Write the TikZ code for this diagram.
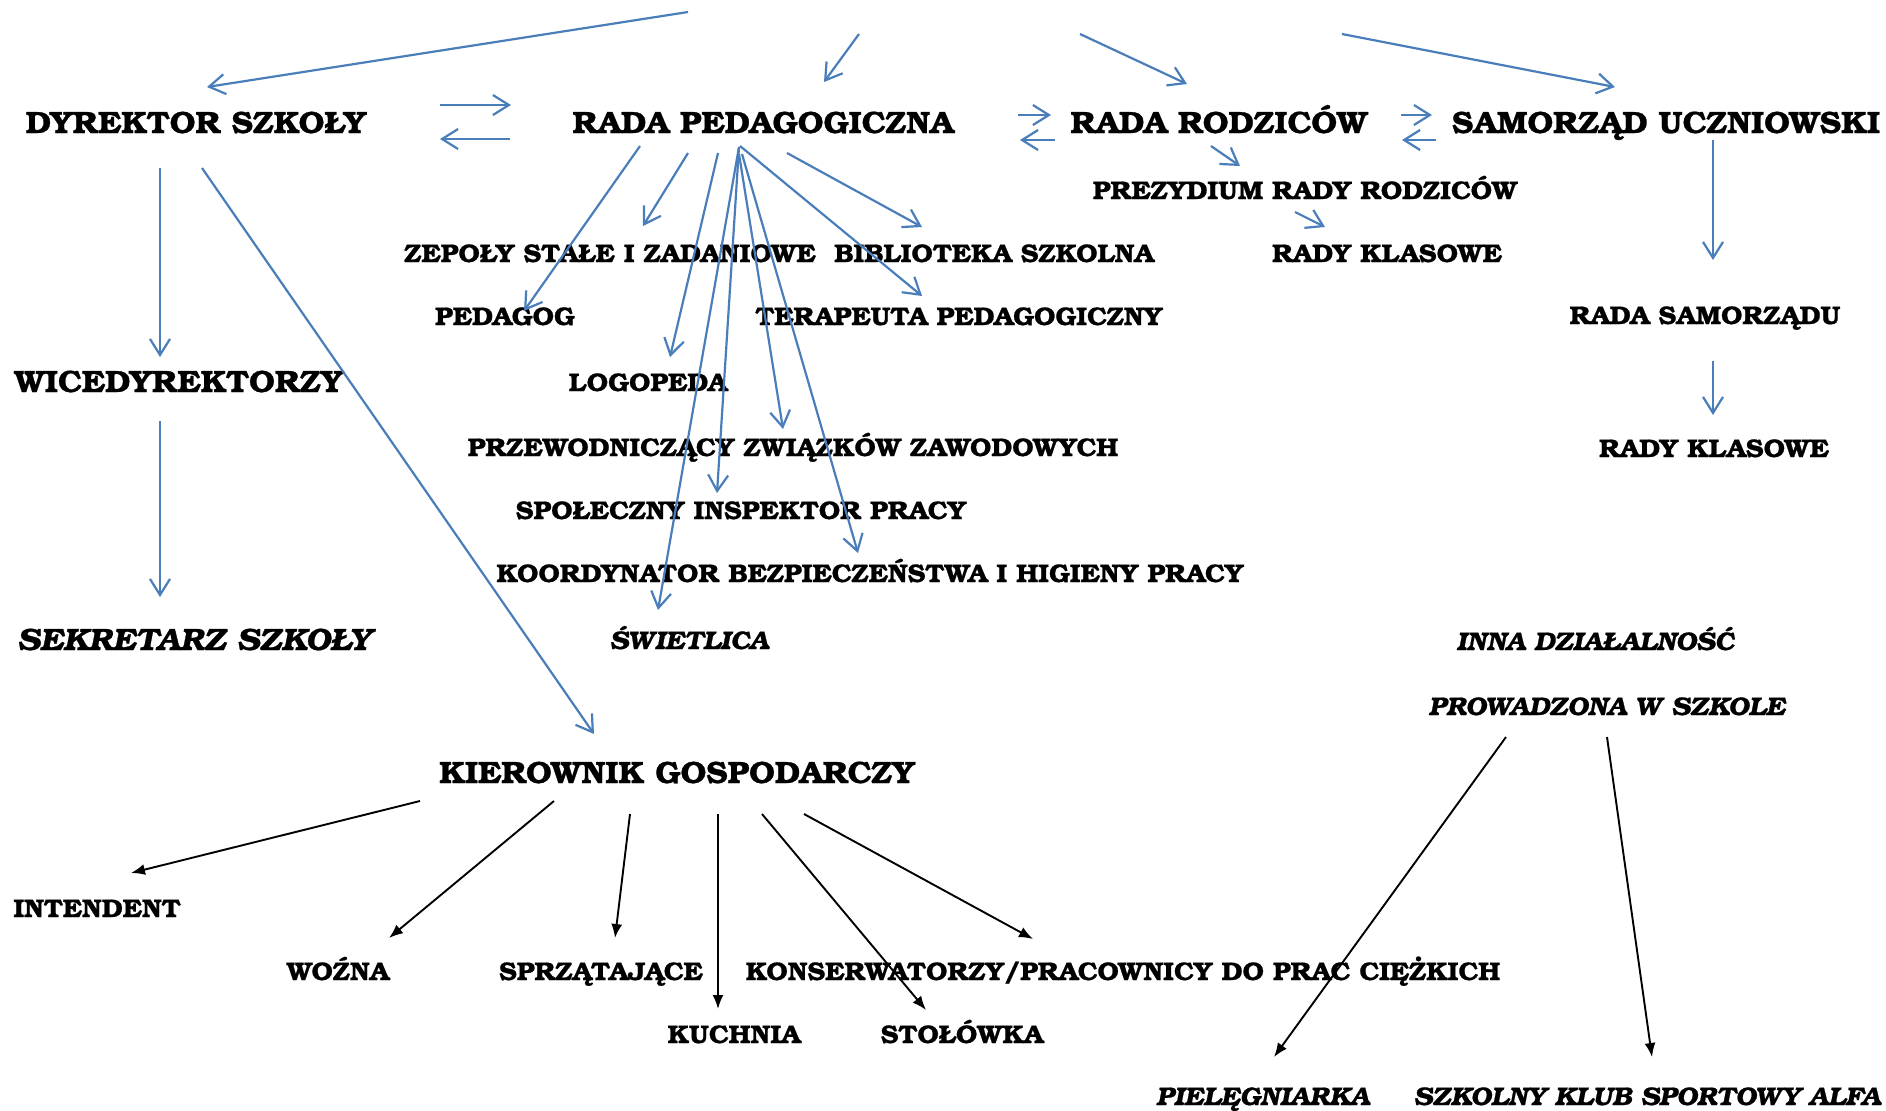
\documentclass[tikz,border=0pt]{standalone}
\usepackage{fontspec}
\setmainfont{TeX Gyre Bonum}[FakeStretch=1.05,BoldFeatures={FakeBold=0.8},BoldItalicFeatures={FakeBold=0.8}]
\usetikzlibrary{arrows.meta}
\definecolor{ablue}{RGB}{74,126,187}
\begin{document}
\begin{tikzpicture}[x=0.5pt,y=-0.5pt,
  lab/.style={anchor=base,inner sep=0pt,font=\bfseries\fontsize{12.75}{15}\selectfont},
  big/.style={anchor=base,inner sep=0pt,font=\bfseries\fontsize{15.4}{18}\selectfont},
  itl/.style={anchor=base,inner sep=0pt,font=\bfseries\itshape\fontsize{12.75}{15}\selectfont},
  bigitl/.style={anchor=base,inner sep=0pt,font=\bfseries\itshape\fontsize{15.4}{18}\selectfont},
  barrow/.style={draw=ablue,line width=1.1pt,-{Straight Barb[length=8pt,width=10pt]}},
  karrow/.style={draw=black,line width=0.95pt,-{Latex[length=7pt,width=5.5pt]}}]
\fill[white] (0,0) rectangle (1886,1110);
\useasboundingbox (0,0) rectangle (1886,1110);
\coordinate (top) at (860,0);
% nodes
\node[big] (dyr) at (196,133) {DYREKTOR SZKOŁY};
\node[big] (rped) at (763,133) {RADA PEDAGOGICZNA};
\node[big] (rrodz) at (1219,133) {RADA RODZICÓW};
\node[big] (samorz) at (1666,133) {SAMORZĄD UCZNIOWSKI};
\node[lab] (prez) at (1305,199) {PREZYDIUM RADY RODZICÓW};
\node[lab] (zesp) at (610,262) {ZEPOŁY STAŁE I ZADANIOWE};
\node[lab] (bibl) at (994,262) {BIBLIOTEKA SZKOLNA};
\node[lab] (rkl1) at (1387,262) {RADY KLASOWE};
\node[lab] (ped) at (505,325) {PEDAGOG};
\node[lab] (terap) at (959,325) {TERAPEUTA PEDAGOGICZNY};
\node[lab] (rsam) at (1705,324) {RADA SAMORZĄDU};
\node[big] (wice) at (179,392) {WICEDYREKTORZY};
\node[lab] (logo) at (648,391) {LOGOPEDA};
\node[lab] (przew) at (793,456) {PRZEWODNICZĄCY ZWIĄZKÓW ZAWODOWYCH};
\node[lab] (rkl2) at (1714,457) {RADY KLASOWE};
\node[lab] (spol) at (741,519) {SPOŁECZNY INSPEKTOR PRACY};
\node[lab] (koord) at (870,582) {KOORDYNATOR BEZPIECZEŃSTWA I HIGIENY PRACY};
\node[bigitl] (sekr) at (194,650) {SEKRETARZ SZKOŁY};
\node[itl] (swiet) at (689,649) {ŚWIETLICA};
\node[itl] (inna) at (1595,650) {INNA DZIAŁALNOŚĆ};
\node[itl] (prow) at (1607,715) {PROWADZONA W SZKOLE};
\node[big] (kier) at (677,783) {KIEROWNIK GOSPODARCZY};
\node[lab] (intend) at (97,917) {INTENDENT};
\node[lab] (wozna) at (338,980) {WOŹNA};
\node[lab] (sprz) at (601,980) {SPRZĄTAJĄCE};
\node[lab] (kons) at (1123,980) {KONSERWATORZY/PRACOWNICY DO PRAC CIĘŻKICH};
\node[lab] (kuch) at (734,1043) {KUCHNIA};
\node[lab] (stol) at (962,1043) {STOŁÓWKA};
\node[itl] (piel) at (1263,1105) {PIELĘGNIARKA};
\node[itl] (szk) at (1647,1105) {SZKOLNY KLUB SPORTOWY ALFA};
% blue arrows
\draw[barrow] ([shift={(-172,12)}]top) -- ([shift={(11,-46)}]dyr.base);
\draw[barrow] ([shift={(-1,34)}]top) -- ([shift={(61,-51)}]rped.base);
\draw[barrow] ([shift={(220,34)}]top) -- ([shift={(-32,-49)}]rrodz.base);
\draw[barrow] ([shift={(482,34)}]top) -- ([shift={(-51,-46)}]samorz.base);
\draw[barrow] ([shift={(244,-28)}]dyr.base) -- ([shift={(-252,-28)}]rped.base);
\draw[barrow] ([shift={(-253,6)}]rped.base) -- ([shift={(244,6)}]dyr.base);
\draw[barrow] ([shift={(255,-18)}]rped.base) -- ([shift={(-168,-18)}]rrodz.base);
\draw[barrow] ([shift={(-164,7)}]rrodz.base) -- ([shift={(257,7)}]rped.base);
\draw[barrow] ([shift={(182,-18)}]rrodz.base) -- ([shift={(-234,-18)}]samorz.base);
\draw[barrow] ([shift={(-230,7)}]samorz.base) -- ([shift={(183,7)}]rrodz.base);
\draw[barrow] ([shift={(-8,13)}]rrodz.base) -- ([shift={(-65,-33)}]prez.base);
\draw[barrow] ([shift={(-10,13)}]prez.base) -- ([shift={(-62,-35)}]rkl1.base);
\draw[barrow] ([shift={(47,7)}]samorz.base) -- ([shift={(8,-64)}]rsam.base);
\draw[barrow] ([shift={(8,37)}]rsam.base) -- ([shift={(-1,-42)}]rkl2.base);
\draw[barrow] ([shift={(-36,35)}]dyr.base) -- ([shift={(-19,-35)}]wice.base);
\draw[barrow] ([shift={(-19,29)}]wice.base) -- ([shift={(-34,-53)}]sekr.base);
\draw[barrow] ([shift={(6,35)}]dyr.base) -- ([shift={(-83,-49)}]kier.base);
\draw[barrow] ([shift={(-123,13)}]rped.base) -- ([shift={(19,-14)}]ped.base);
\draw[barrow] ([shift={(-75,20)}]rped.base) -- ([shift={(33,-36)}]zesp.base);
\draw[barrow] ([shift={(-45,20)}]rped.base) -- ([shift={(22,-34)}]logo.base);
\draw[barrow] ([shift={(-24,14)}]rped.base) -- ([shift={(-31,-39)}]swiet.base);
\draw[barrow] ([shift={(-24,14)}]rped.base) -- ([shift={(-24,-26)}]spol.base);
\draw[barrow] ([shift={(-24,21)}]rped.base) -- ([shift={(-10,-27)}]przew.base);
\draw[barrow] ([shift={(-21,21)}]rped.base) -- ([shift={(-12,-29)}]koord.base);
\draw[barrow] ([shift={(-23,13)}]rped.base) -- ([shift={(-37,-29)}]terap.base);
\draw[barrow] ([shift={(24,20)}]rped.base) -- ([shift={(-72,-35)}]bibl.base);
% black arrows
\draw[karrow] ([shift={(-257,18)}]kier.base) -- ([shift={(34,-44)}]intend.base);
\draw[karrow] ([shift={(-123,18)}]kier.base) -- ([shift={(51,-42)}]wozna.base);
\draw[karrow] ([shift={(-47,31)}]kier.base) -- ([shift={(14,-42)}]sprz.base);
\draw[karrow] ([shift={(41,31)}]kier.base) -- ([shift={(-16,-34)}]kuch.base);
\draw[karrow] ([shift={(85,31)}]kier.base) -- ([shift={(-36,-33)}]stol.base);
\draw[karrow] ([shift={(127,31)}]kier.base) -- ([shift={(-90,-41)}]kons.base);
\draw[karrow] ([shift={(-101,22)}]prow.base) -- ([shift={(11,-48)}]piel.base);
\draw[karrow] ([shift={(0,22)}]prow.base) -- ([shift={(5,-48)}]szk.base);
\end{tikzpicture}
\end{document}
